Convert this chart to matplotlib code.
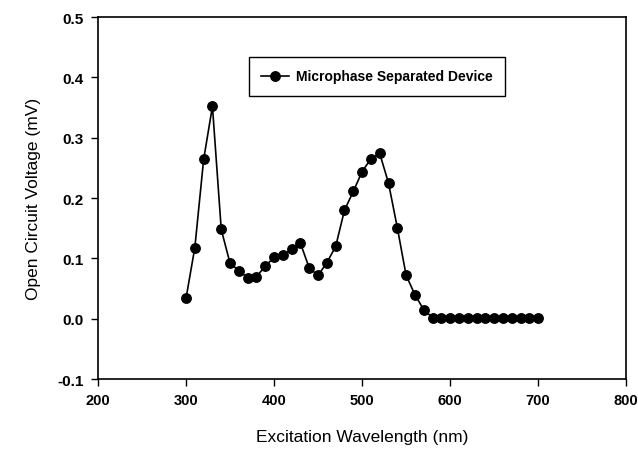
import matplotlib
matplotlib.use('Agg')
import matplotlib.pyplot as plt

plt.rcParams['font.family'] = ['Liberation Sans', 'DejaVu Sans']

wavelength = list(range(300, 710, 10))
voltage = [0.034, 0.118, 0.264, 0.352, 0.148, 0.092, 0.080, 0.068, 0.070, 0.087,
           0.102, 0.106, 0.115, 0.125, 0.084, 0.072, 0.093, 0.120, 0.180, 0.211,
           0.244, 0.265, 0.274, 0.225, 0.151, 0.072, 0.040, 0.015, 0.002, 0.002,
           0.002, 0.002, 0.002, 0.002, 0.002, 0.002, 0.002, 0.002, 0.002, 0.002,
           0.002]
x_ticks = [200, 300, 400, 500, 600, 700, 800]
y_ticks = [-0.1, 0.0, 0.1, 0.2, 0.3, 0.4, 0.5]

fig = plt.figure(figsize=(6.38, 4.52), dpi=100)
ax = fig.add_axes([0.1536, 0.159, 0.8279, 0.801])

ax.plot(wavelength, voltage, color='black', lw=1.2, marker='o', ms=6.8,
        label='Microphase Separated Device')

ax.set_xlim(200, 800)
ax.set_ylim(-0.1, 0.5)
ax.set_xticks(x_ticks)
ax.set_yticks(y_ticks)
ax.set_xticklabels([str(t) for t in x_ticks], fontweight='bold', fontsize=10.5)
ax.set_yticklabels(['%.1f' % t for t in y_ticks], fontweight='bold', fontsize=11)
ax.tick_params(direction='out', length=5, width=1, pad=5)
for sp in ax.spines.values():
    sp.set_linewidth(1.2)

ax.set_xlabel('Excitation Wavelength (nm)', fontsize=12.5, labelpad=16)
ax.set_ylabel('Open Circuit Voltage (mV)', fontsize=12.5, labelpad=12)

leg = ax.legend(loc='upper left', bbox_to_anchor=(0.285, 0.89), fancybox=False,
                edgecolor='black', framealpha=1, handlelength=2.0,
                handletextpad=0.5, borderpad=0.9, borderaxespad=0,
                prop={'weight': 'bold', 'size': 10})
leg.get_frame().set_linewidth(1.0)

fig.savefig('out.png', dpi=100)
